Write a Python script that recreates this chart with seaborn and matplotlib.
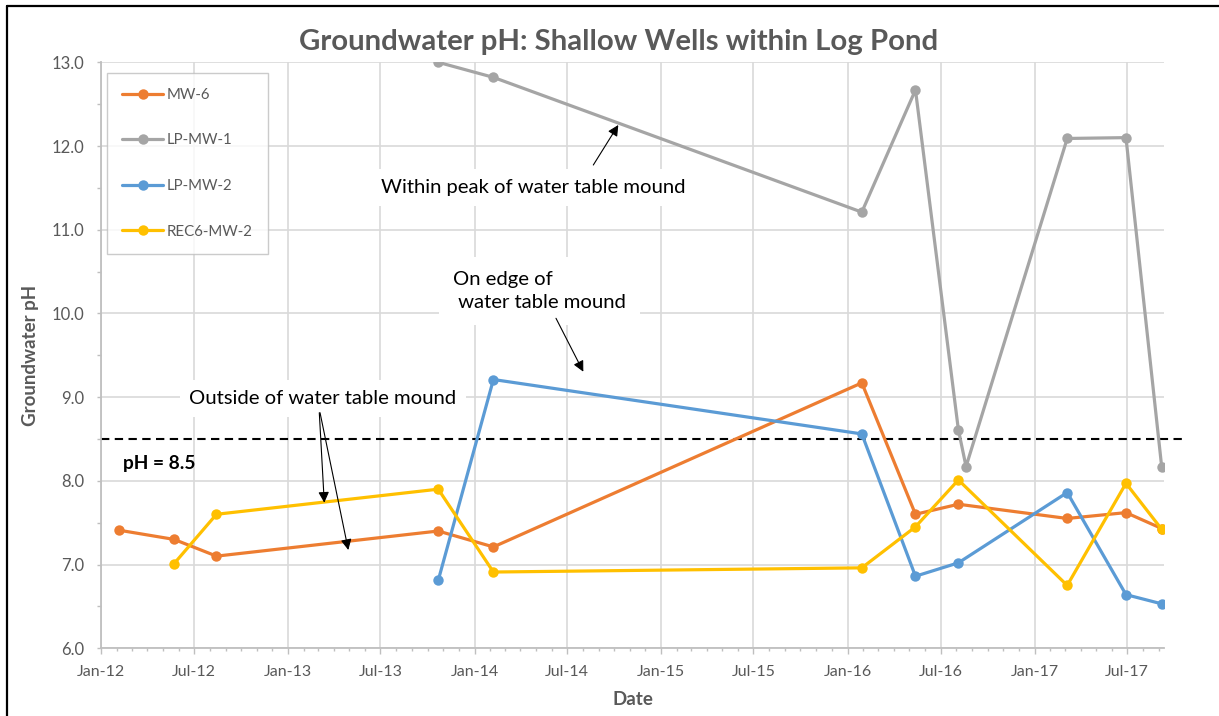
import matplotlib
matplotlib.use("Agg")
import matplotlib.pyplot as plt
import matplotlib.dates as mdates
from matplotlib.ticker import MultipleLocator, FormatStrFormatter
import seaborn as sns
import pandas as pd

# ---------------- data ----------------
mw6_dates = ["2012-02-05", "2012-05-23", "2012-08-14", "2013-10-22", "2014-02-07",
             "2016-01-29", "2016-05-13", "2016-08-05", "2017-03-06", "2017-06-29", "2017-09-07"]
mw6_ph = [7.41, 7.30, 7.10, 7.40, 7.21, 9.17, 7.60, 7.72, 7.55, 7.62, 7.43]

lpmw1_dates = ["2013-10-22", "2014-02-07", "2016-01-29", "2016-05-13", "2016-08-05",
               "2016-08-20", "2017-03-06", "2017-06-29", "2017-09-07"]
lpmw1_ph = [13.0, 12.82, 11.21, 12.67, 8.61, 8.17, 12.09, 12.10, 8.16]

lpmw2_dates = ["2013-10-22", "2014-02-07", "2016-01-29", "2016-05-13", "2016-08-05",
               "2017-03-06", "2017-06-29", "2017-09-07"]
lpmw2_ph = [6.81, 9.21, 8.56, 6.86, 7.02, 7.86, 6.64, 6.53]

rec6_dates = ["2012-05-23", "2012-08-14", "2013-10-22", "2014-02-07", "2016-01-29",
              "2016-05-13", "2016-08-05", "2017-03-06", "2017-06-29", "2017-09-07"]
rec6_ph = [7.01, 7.60, 7.90, 6.91, 6.96, 7.45, 8.01, 6.75, 7.97, 7.42]

series_names = ["MW-6", "LP-MW-1", "LP-MW-2", "REC6-MW-2"]
series_colors = ["#ED7D31", "#A5A5A5", "#5B9BD5", "#FFC000"]
threshold = 8.5

title = "Groundwater pH: Shallow Wells within Log Pond"
x_label = "Date"
y_label = "Groundwater pH"

# ---------------- style ----------------
sns.set_theme(style="white")
plt.rcParams["font.family"] = ["Lato", "DejaVu Sans"]
TXT = "#595959"

fig = plt.figure(figsize=(12.19, 7.16), dpi=100)
ax = fig.add_axes([101 / 1219, 1 - 648.2 / 716, (1164.3 - 101) / 1219, (648.2 - 62.3) / 716])

frames = []
for name, d, v in [(series_names[0], mw6_dates, mw6_ph),
                   (series_names[1], lpmw1_dates, lpmw1_ph),
                   (series_names[2], lpmw2_dates, lpmw2_ph),
                   (series_names[3], rec6_dates, rec6_ph)]:
    frames.append(pd.DataFrame({"Date": pd.to_datetime(d), "pH": v, "Well": name}))
df = pd.concat(frames, ignore_index=True)

for name, col in zip(series_names, series_colors):
    sub = df[df["Well"] == name]
    sns.lineplot(data=sub, x="Date", y="pH", ax=ax, color=col, linewidth=2.3,
                 marker="o", markersize=7.5, markeredgewidth=0, label=name,
                 estimator=None, sort=True, zorder=3)

ax.axhline(threshold, xmin=0, xmax=1.0195, color="black", lw=1.5,
           linestyle=(0, (4, 2.6)), clip_on=False, zorder=2)

# axes
ax.set_xlim(pd.Timestamp("2012-01-01"), pd.Timestamp("2017-09-12"))
ax.set_ylim(6.0, 13.0)
ax.xaxis.set_major_locator(mdates.MonthLocator(bymonth=[1, 7]))
ax.xaxis.set_minor_locator(mdates.MonthLocator())
ax.xaxis.set_major_formatter(mdates.DateFormatter("%b-%y"))
ax.yaxis.set_major_locator(MultipleLocator(1.0))
ax.yaxis.set_minor_locator(MultipleLocator(0.5))
ax.yaxis.set_major_formatter(FormatStrFormatter("%.1f"))

ax.grid(True, which="major", color="#D9D9D9", lw=1.2, zorder=0)
ax.set_axisbelow(True)
for s in ["top", "right"]:
    ax.spines[s].set_visible(False)
for s in ["left", "bottom"]:
    ax.spines[s].set_color("#BFBFBF")
    ax.spines[s].set_linewidth(1.3)

ax.tick_params(axis="x", which="major", direction="out", length=4, width=1, color="#BFBFBF",
               labelsize=11.5, labelcolor=TXT, pad=8, bottom=True)
ax.tick_params(axis="x", which="minor", direction="out", length=2.2, width=1, color="#BFBFBF", bottom=True)
ax.tick_params(axis="y", which="both", direction="out", length=3.2, width=1, color="#BFBFBF",
               labelsize=12, labelcolor=TXT, pad=9, left=True)

ax.set_xlabel(x_label, fontsize=13.5, fontweight="bold", color=TXT, labelpad=9)
ax.set_ylabel(y_label, fontsize=13.5, fontweight="bold", color=TXT, labelpad=9)

fig.text(619 / 1219, 1 - 42 / 716, title, ha="center", va="center",
         fontsize=21.2, fontweight="bold", color=TXT)

# legend
handles, labels = ax.get_legend_handles_labels()
leg = ax.legend(handles, labels, loc="upper left", bbox_to_anchor=(107 / 1219, 1 - 73 / 716),
                bbox_transform=fig.transFigure, frameon=True, fancybox=False,
                edgecolor="#BFBFBF", fontsize=10.8, labelspacing=2.1, handlelength=2.75,
                handletextpad=0.25, borderpad=1.0, borderaxespad=0)
leg.get_frame().set_linewidth(1.0)
for t in leg.get_texts():
    t.set_color(TXT)

# annotations
box = dict(facecolor="white", edgecolor="none", pad=7)
arrow = dict(arrowstyle="-|>", color="black", lw=0.8, mutation_scale=16, shrinkA=0, shrinkB=0)

ax.text(0.4067, 0.7866, "Within peak of water table mound", transform=ax.transAxes,
        ha="center", va="center", fontsize=14.6, color="black", bbox=box, zorder=4)
ax.annotate("", xy=(0.4865, 0.8930), xytext=(0.4630, 0.8247), xycoords="axes fraction",
            textcoords="axes fraction", arrowprops=arrow, zorder=5)

ax.text(0.3310, 0.6102, "On edge of\n water table mound", transform=ax.transAxes,
        ha="left", va="center", fontsize=14.6, color="black", linespacing=1.45,
        bbox=dict(facecolor="white", edgecolor="none", pad=10), zorder=4)
ax.annotate("", xy=(0.4536, 0.4719), xytext=(0.4279, 0.5631), xycoords="axes fraction",
            textcoords="axes fraction", arrowprops=arrow, zorder=5)

ax.text(0.2088, 0.4265, "Outside of water table mound", transform=ax.transAxes,
        ha="center", va="center", fontsize=14.6, color="black", bbox=box, zorder=4)
ax.annotate("", xy=(0.2100, 0.2483), xytext=(0.2053, 0.4019), xycoords="axes fraction",
            textcoords="axes fraction", arrowprops=arrow, zorder=5)
ax.annotate("", xy=(0.2326, 0.1676), xytext=(0.2060, 0.4019), xycoords="axes fraction",
            textcoords="axes fraction", arrowprops=arrow, zorder=5)

ax.text(0.0210, 0.3148, "pH = 8.5", transform=ax.transAxes, ha="left", va="center",
        fontsize=13.8, fontweight="bold", color="black", zorder=4)

# chart-area border (top and left visible)
fig.add_artist(plt.Line2D([7 / 1219, 7 / 1219], [0, 1 - 5.7 / 716], transform=fig.transFigure,
                          color="black", lw=1.6))
fig.add_artist(plt.Line2D([7 / 1219, 1], [1 - 5.7 / 716, 1 - 5.7 / 716], transform=fig.transFigure,
                          color="black", lw=1.6))

fig.savefig("out.png", dpi=100)
